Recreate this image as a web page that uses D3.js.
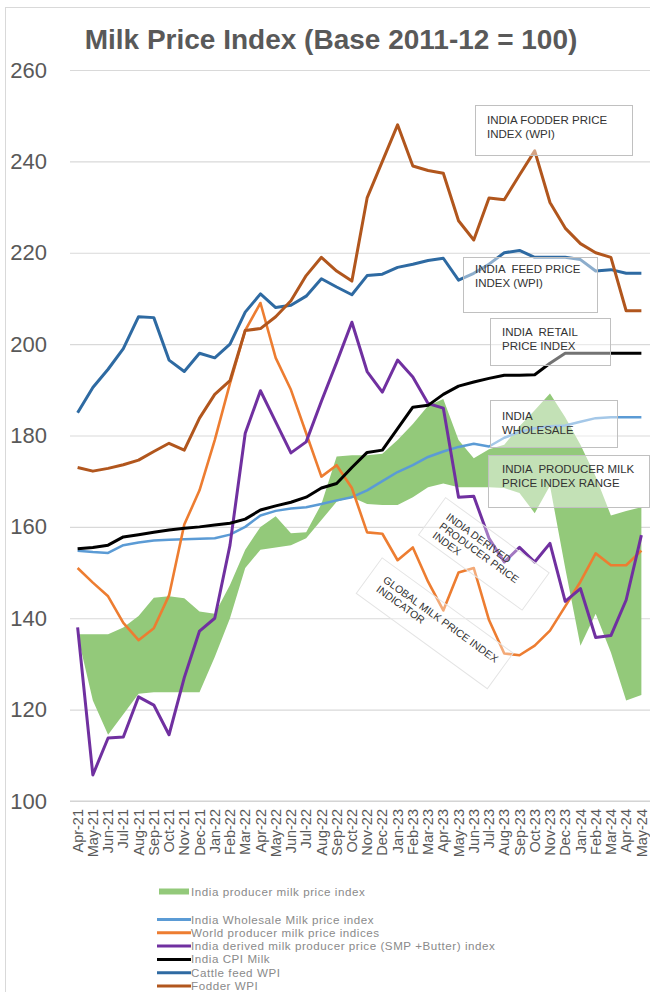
<!DOCTYPE html>
<html>
<head>
<meta charset="utf-8">
<script src="https://cdn.jsdelivr.net/npm/d3@7"></script>
<style>
  html, body { margin: 0; padding: 0; background: #fff; }
  svg { display: block; font-family: "Liberation Sans", Arial, sans-serif; }
</style>
</head>
<body>
<svg id="chart" width="650" height="992"></svg>
<script>
// ---------------- DATA ----------------
const months = ["Apr-21","May-21","Jun-21","Jul-21","Aug-21","Sep-21","Oct-21","Nov-21","Dec-21","Jan-22","Feb-22","Mar-22","Apr-22","May-22","Jun-22","Jul-22","Aug-22","Sep-22","Oct-22","Nov-22","Dec-22","Jan-23","Feb-23","Mar-23","Apr-23","May-23","Jun-23","Jul-23","Aug-23","Sep-23","Oct-23","Nov-23","Dec-23","Jan-24","Feb-24","Mar-24","Apr-24","May-24"];

const yTicks = [100, 120, 140, 160, 180, 200, 220, 240, 260];

// India producer milk price index (range: low / high)
const producerLow  = [136.3,122,114.5,119,123.5,123.8,123.8,123.8,123.8,131.5,140,151,155,155.5,156,157.5,161.5,165.5,166.5,165,164.8,164.8,166.5,168.7,169.5,168.7,168.7,168.7,168.5,167.4,163,169,151,134,141,132.5,122,123.2];
const producerHigh = [136.5,136.5,136.5,138,140.5,144.5,144.8,144.4,141.5,141,147.3,155,160,162.3,158.6,158.8,165,175.4,175.7,175.7,176,179,182.5,186.5,188,179,175,177,178,182,185.5,189.2,184,178,171,162.5,163.5,164.3];

const wholesale  = [154.8,154.5,154.3,156,156.6,157,157.2,157.3,157.4,157.5,158.3,160,162.5,163.5,164,164.3,165,165.8,166.5,168,170,172,173.5,175.3,176.5,177.5,178.2,177.6,179.5,180.8,181.6,182,182.2,183,183.8,184,184,184];
const worldPrice = [151,147.8,144.8,139,135.2,137.8,145,160.5,168,179,191.4,203,209,197,190,180.5,171,173.5,168.5,158.8,158.5,152.7,155.5,148,141.7,150,151,139.6,132.3,131.9,134,137.3,142.6,148,154.2,151.6,151.6,154.8];
const derived    = [138,105.7,113.8,114,122.8,121,114.5,127,137.2,140,156,180.5,189.8,183,176.2,178.6,187.5,196,204.8,194,189.5,196.5,192.8,187,186,166.5,166.7,157.5,152.3,155.5,152.3,156.4,143.7,146.5,135.8,136.2,144,158.2];
const cpiMilk    = [155.2,155.5,156,157.8,158.3,158.8,159.3,159.7,160,160.4,160.8,161.7,163.7,164.6,165.4,166.5,168.5,169.5,173,176.3,176.8,181.5,186.2,186.6,189,190.8,191.7,192.5,193.2,193.2,193.3,195.8,198,198,198,198,198,198];
const cattleFeed = [185,190.5,194.5,199,206,205.8,196.5,194,198,197,200,207,211,208,208.5,210.5,214.3,212.5,210.8,215,215.3,216.8,217.5,218.3,218.8,214,215.5,217.5,220,220.5,219,219,219,218.5,216,216.3,215.5,215.5];
const fodder     = [173,172.2,172.8,173.6,174.6,176.5,178.3,176.8,183.8,189,192,203,203.4,206,209.5,215,219,216,213.8,232,240,248,239,238,237.4,227,222.8,232,231.6,237,242.3,231,225.4,222,220,219,207.3,207.3];

const titleText = "Milk Price Index (Base 2011-12 = 100)";
const legendLabels = [
  "India producer milk price index",
  "India Wholesale Milk price index",
  "World producer milk price indices",
  "India derived milk producer price (SMP +Butter) index",
  "India CPI Milk",
  "Cattle feed WPI",
  "Fodder WPI"
];
const uprightNotes = [
  ["INDIA FODDER PRICE", "INDEX (WPI)"],
  ["INDIA  FEED PRICE", "INDEX (WPI)"],
  ["INDIA  RETAIL", "PRICE INDEX"],
  ["INDIA", "WHOLESALE"],
  ["INDIA  PRODUCER MILK", "PRICE INDEX RANGE"]
];
const rotatedNotes = [
  ["INDIA DERIVED", "PRODUCER PRICE", "INDEX"],
  ["GLOBAL MILK PRICE INDEX", "INDICATOR"]
];

// ---------------- STYLES / LAYOUT ----------------
const colors = {
  area: "#93c97a",
  wholesale: "#5b9bd5",
  world: "#ed7d31",
  derived: "#7030a0",
  cpi: "#000000",
  cattle: "#2e6aa2",
  fodder: "#b1561d"
};
const legendColors = [colors.area, colors.wholesale, colors.world, colors.derived, colors.cpi, colors.cattle, colors.fodder];

const svg = d3.select("#chart");
const plotLeft = 70, plotRight = 649, plotTop = 70, plotBottom = 801;

svg.append("rect").attr("width", 650).attr("height", 992).attr("fill", "#fff");
svg.append("rect").attr("x", 5.5).attr("y", 7.5).attr("width", 700).attr("height", 1000)
  .attr("fill", "none").attr("stroke", "#d9d9d9");

const x = d3.scalePoint().domain(months).range([plotLeft, plotRight]).padding(0.5);
const y = d3.scaleLinear().domain([100, 260]).range([plotBottom, plotTop]);

// title
svg.append("text").attr("x", 331).attr("y", 49).attr("text-anchor", "middle")
  .attr("font-size", 28).attr("font-weight", "bold").attr("fill", "#595959")
  .text(titleText);

// gridlines + y labels
const yAxis = d3.axisLeft(y).tickValues(yTicks).tickSize(-(650 - plotLeft)).tickPadding(0);
const gy = svg.append("g").attr("transform", `translate(${plotLeft},0)`).call(yAxis);
gy.select(".domain").remove();
gy.selectAll(".tick line").attr("stroke", "#d9d9d9").attr("stroke-width", 1.2);
gy.selectAll(".tick text").attr("x", -23).attr("font-size", 22).attr("fill", "#595959")
  .attr("font-family", "Liberation Sans, Arial, sans-serif");

// x axis
const xAxis = d3.axisBottom(x).tickSize(0).tickPadding(0);
const gx = svg.append("g").attr("transform", `translate(0,${plotBottom})`).call(xAxis);
gx.select(".domain").attr("stroke", "#d0d0d0").attr("d", `M${plotLeft},0H650`);
gx.selectAll(".tick text")
  .attr("font-size", 14.5).attr("fill", "#595959")
  .attr("font-family", "Liberation Sans, Arial, sans-serif")
  .attr("text-anchor", "end")
  .attr("transform", "rotate(-90)")
  .attr("x", -8).attr("y", 0).attr("dy", "0.32em");

// area
const areaData = months.map((m, i) => ({ m, lo: producerLow[i], hi: producerHigh[i] }));
svg.append("path").datum(areaData)
  .attr("fill", colors.area)
  .attr("d", d3.area().x(d => x(d.m)).y0(d => y(d.lo)).y1(d => y(d.hi)));

// lines
const series = [
  { vals: wholesale, color: colors.wholesale, w: 2.5 },
  { vals: worldPrice, color: colors.world, w: 2.6 },
  { vals: derived, color: colors.derived, w: 3 },
  { vals: cpiMilk, color: colors.cpi, w: 3 },
  { vals: cattleFeed, color: colors.cattle, w: 3 },
  { vals: fodder, color: colors.fodder, w: 3 }
];
const line = d3.line().x((d, i) => x(months[i])).y(d => y(d));
series.forEach(s => {
  svg.append("path").datum(s.vals)
    .attr("fill", "none").attr("stroke", s.color).attr("stroke-width", s.w)
    .attr("stroke-linejoin", "round").attr("d", line);
});

// upright annotation boxes
const boxes = [
  { x: 475, y: 105, w: 157, h: 50, tx: 487, ty: 123.5 },
  { x: 463, y: 257, w: 134, h: 55, tx: 475, ty: 272.5 },
  { x: 490, y: 318, w: 120, h: 47, tx: 502, ty: 336 },
  { x: 490, y: 400, w: 127, h: 47, tx: 502, ty: 419.5 },
  { x: 488, y: 455, w: 161, h: 52, tx: 502, ty: 473 }
];
boxes.forEach((b, k) => {
  svg.append("rect").attr("x", b.x + 0.5).attr("y", b.y + 0.5).attr("width", b.w).attr("height", b.h)
    .attr("fill", "#fff").attr("fill-opacity", 0.45)
    .attr("stroke", "#c0c0c0").attr("stroke-width", 1);
  uprightNotes[k].forEach((t, j) => {
    svg.append("text").attr("x", b.tx).attr("y", b.ty + j * 14)
      .attr("font-size", 11.5).attr("fill", "#333")
      .style("white-space", "pre").text(t);
  });
});

// rotated annotations
const rot = [
  { x: 450, y: 512, a: 36, box: [-12, -9, 128, 46] },
  { x: 387, y: 575, a: 36, box: [-14, -11, 162, 44] }
];
rot.forEach((r, k) => {
  const g = svg.append("g").attr("transform", `translate(${r.x},${r.y}) rotate(${r.a})`);
  g.append("rect").attr("x", r.box[0]).attr("y", r.box[1]).attr("width", r.box[2]).attr("height", r.box[3])
    .attr("fill", "#fff").attr("fill-opacity", 0.35).attr("stroke", "#e4e4e4");
  rotatedNotes[k].forEach((t, j) => {
    g.append("text").attr("x", 0).attr("y", 8 + j * 11.5)
      .attr("font-size", 10.5).attr("fill", "#333").text(t);
  });
});

// legend
const legendY = [891.5, 919.5, 932.8, 946.1, 959.4, 972.7, 986];
legendLabels.forEach((t, i) => {
  const yy = legendY[i];
  if (i === 0) {
    svg.append("line").attr("x1", 159).attr("x2", 189).attr("y1", yy).attr("y2", yy)
      .attr("stroke", legendColors[i]).attr("stroke-width", 6);
  } else {
    svg.append("line").attr("x1", 157).attr("x2", 191).attr("y1", yy).attr("y2", yy)
      .attr("stroke", legendColors[i]).attr("stroke-width", 3);
  }
  svg.append("text").attr("x", 191).attr("y", yy + 4)
    .attr("font-size", 11.6).attr("letter-spacing", 0.55).attr("fill", "#8a8a8a").text(t);
});
</script>
</body>
</html>
